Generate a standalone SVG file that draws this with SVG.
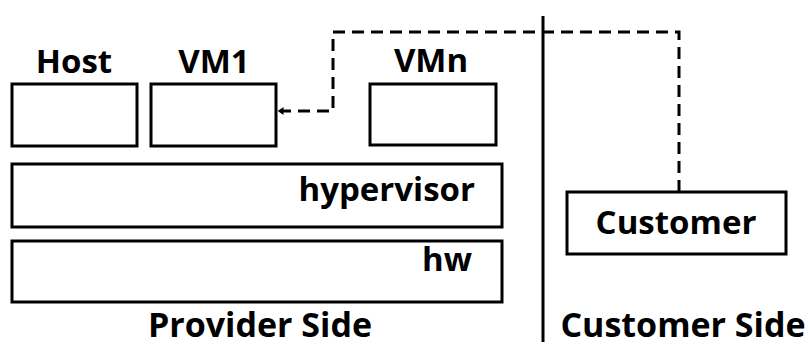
<svg xmlns="http://www.w3.org/2000/svg" width="806" height="347" viewBox="0 0 806 347">
<style>
.box{fill:#fff;stroke:#000;stroke-width:3}
.t{font-family:"Open Sans","Liberation Sans",sans-serif;font-weight:bold;font-size:33px;fill:#000}
.lg{font-size:34px}
.dash{fill:none;stroke:#000;stroke-width:3;stroke-dasharray:12 7}
</style>
<defs>
<marker id="ah" viewBox="0 0 6 8" refX="0.5" refY="4" markerWidth="6" markerHeight="8" markerUnits="userSpaceOnUse" orient="auto-start-reverse">
<path d="M0,0 L6,4 L0,8 Z" fill="#000"/>
</marker>
</defs>
<rect width="806" height="347" fill="#fff"/>
<g id="host"><rect class="box" x="12" y="84" width="125" height="62"/><text class="t" x="74" y="73" text-anchor="middle">Host</text></g>
<g id="vm1"><rect class="box" x="151" y="84" width="125" height="62"/><text class="t" x="214" y="73" text-anchor="middle">VM1</text></g>
<g id="vmn"><rect class="box" x="370" y="84" width="126" height="61"/><text class="t" x="431" y="72" text-anchor="middle">VMn</text></g>
<g id="hypervisor"><rect class="box" x="12" y="164" width="490" height="63"/><text class="t" x="475" y="201" text-anchor="end">hypervisor</text></g>
<g id="hw"><rect class="box" x="12" y="241" width="490" height="61"/><text class="t" x="472" y="271" text-anchor="end">hw</text></g>
<g id="customer"><rect class="box" x="567" y="192" width="219" height="62"/><text class="t" x="676" y="234" text-anchor="middle">Customer</text></g>
<g id="divider"><line x1="543" y1="16" x2="543" y2="342" stroke="#000" stroke-width="3"/></g>
<g id="labels"><text class="t lg" x="260" y="337" text-anchor="middle">Provider Side</text><text class="t lg" x="683" y="337" text-anchor="middle">Customer Side</text></g>
<g id="connectors">
<path class="dash" d="M679,192 L679,32 L333,32 L333,111 L283,111" marker-end="url(#ah)"/>
</g>
</svg>
